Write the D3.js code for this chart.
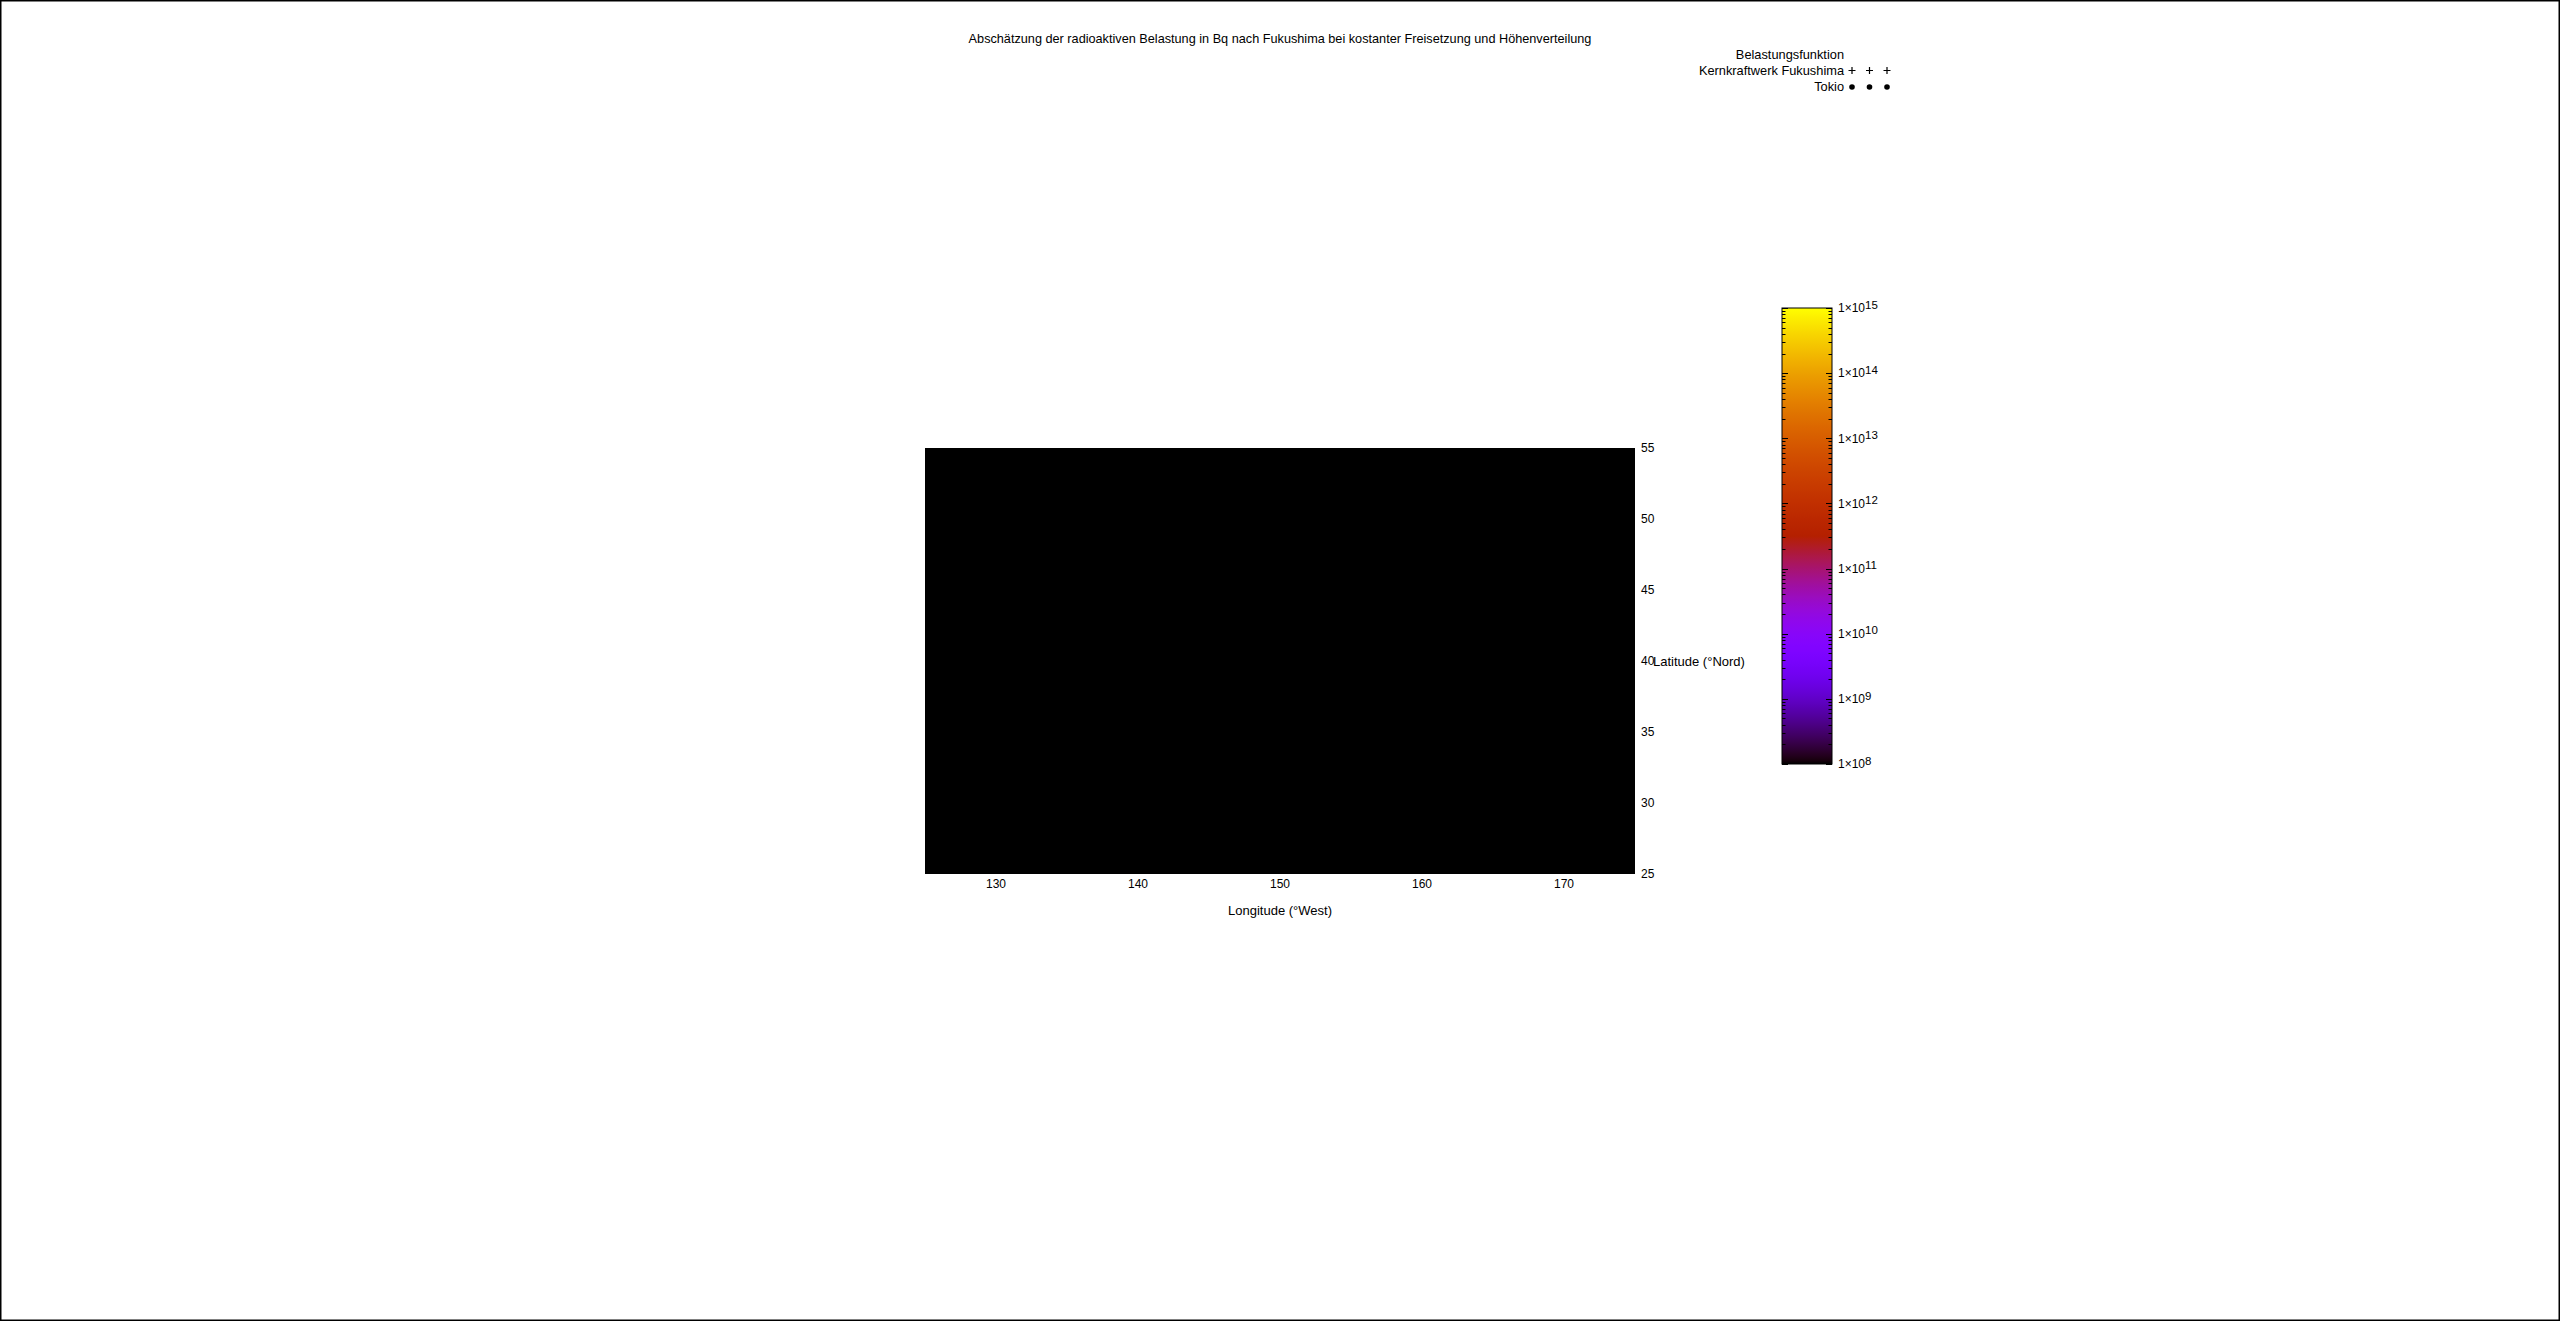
<!DOCTYPE html>
<html><head><meta charset="utf-8">
<script src="https://cdn.jsdelivr.net/npm/d3@7"></script>
<style>html,body{margin:0;padding:0;background:#fff;overflow:hidden}</style>
</head><body>
<script>
// ---------- data ----------
const titleText = "Abschätzung der radioaktiven Belastung in Bq nach Fukushima bei kostanter Freisetzung und Höhenverteilung";
const xLabelText = "Longitude (°West)";
const yLabelText = "Latitude (°Nord)";
const lonDomain = [125, 175];
const latDomain = [25, 55];
const lonTicks = [130, 140, 150, 160, 170];
const latTicks = [25, 30, 35, 40, 45, 50, 55];
const cbDomain = [1e8, 1e15];
const cbExponents = [8, 9, 10, 11, 12, 13, 14, 15];
const legendTitle = "Belastungsfunktion";
const legendNames = ["Kernkraftwerk Fukushima", "Tokio"];
const legendSymbols = ["plus", "circle"];
// field cells (edges and values in Bq) — whole map at palette minimum
const cellLonEdges = [125, 175];
const cellLatEdges = [25, 55];
const cellValues = [[1e8]];
// sites
const siteLon = [141.03, 139.69];
const siteLat = [37.42, 35.69];

// ---------- drawing ----------
const W = 2560, H = 1321;
const FONT = "'Liberation Sans', Arial, sans-serif";
const svg = d3.select("body").append("svg").attr("width", W).attr("height", H)
  .style("font-family", FONT).style("font-size", "12px");

svg.append("rect").attr("x", 0).attr("y", 0).attr("width", W).attr("height", H).attr("fill", "#fff");
svg.append("rect").attr("x", 0.75).attr("y", 0.75).attr("width", W - 1.5).attr("height", H - 1.5)
  .attr("fill", "none").attr("stroke", "#000").attr("stroke-width", 1.5);

const palette = t => {
  t = Math.max(0, Math.min(1, t));
  const r = Math.sqrt(t), g = t * t * t, b = Math.max(0, Math.sin(2 * Math.PI * t));
  return d3.rgb(r * 255, g * 255, b * 255).toString();
};
const tScale = d3.scaleLog().domain(cbDomain).range([0, 1]).clamp(true);
const color = v => palette(tScale(v));

const plot = {left: 925, right: 1635, top: 448, bottom: 874};
const x = d3.scaleLinear().domain(lonDomain).range([plot.left, plot.right]);
const y = d3.scaleLinear().domain(latDomain).range([plot.bottom, plot.top]);

// heat map cells
cellValues.forEach((row, j) => row.forEach((v, i) => {
  svg.append("rect")
    .attr("x", x(cellLonEdges[i])).attr("y", y(cellLatEdges[j + 1]))
    .attr("width", x(cellLonEdges[i + 1]) - x(cellLonEdges[i]))
    .attr("height", y(cellLatEdges[j]) - y(cellLatEdges[j + 1]))
    .attr("fill", color(v));
}));

// sites (black, as in reference)
svg.append("g").selectAll("path").data(siteLon.map((d, i) => [d, siteLat[i], legendSymbols[i]]))
  .join("path")
  .attr("transform", d => `translate(${x(d[0])},${y(d[1])})`)
  .attr("d", d => d[2] === "plus" ? "M-3.5,0H3.5M0,-3.5V3.5" : d3.symbol().type(d3.symbolCircle).size(25)())
  .attr("stroke", "#000").attr("fill", d => d[2] === "plus" ? "none" : "#000");

// x axis labels
svg.append("g").selectAll("text").data(lonTicks).join("text")
  .attr("x", d => x(d)).attr("y", 888).attr("text-anchor", "middle").text(d => d);
// y axis labels (right side)
svg.append("g").selectAll("text").data(latTicks).join("text")
  .attr("x", plot.right + 6).attr("y", d => y(d)).attr("dy", "0.35em").text(d => d);

svg.append("text").attr("x", (plot.left + plot.right) / 2).attr("y", 915)
  .attr("text-anchor", "middle").style("font-size", "13px").text(xLabelText);
svg.append("text").attr("x", 1653).attr("y", (plot.top + plot.bottom) / 2).attr("dy", "0.35em")
  .style("font-size", "13px").text(yLabelText);

svg.append("text").attr("x", (plot.left + plot.right) / 2).attr("y", 42.5)
  .attr("text-anchor", "middle").style("font-size", "12.7px").text(titleText);

// legend
const legX = 1844, legSymX = [1852, 1869.5, 1887], legRows = [55, 70.5, 87];
const legFont = "12.8px";
svg.append("text").attr("x", legX).attr("y", legRows[0] + 4.3).attr("text-anchor", "end")
  .style("font-size", legFont).text(legendTitle);
legendNames.forEach((name, i) => {
  const cy = legRows[i + 1];
  svg.append("text").attr("x", legX).attr("y", cy + 4.3).attr("text-anchor", "end")
    .style("font-size", legFont).text(name);
  legSymX.forEach(sx => {
    if (legendSymbols[i] === "plus") {
      svg.append("path").attr("d", `M${sx - 3.5},${cy}H${sx + 3.5}M${sx},${cy - 3.5}V${cy + 3.5}`)
        .attr("stroke", "#000").attr("stroke-width", 1.2);
    } else {
      svg.append("circle").attr("cx", sx).attr("cy", cy).attr("r", 2.8).attr("fill", "#000");
    }
  });
});

// colour box
const cb = {left: 1782, right: 1832, top: 308, bottom: 764};
const cbY = d3.scaleLog().domain(cbDomain).range([cb.bottom, cb.top]);
const defs = svg.append("defs");
const grad = defs.append("linearGradient").attr("id", "cbgrad")
  .attr("x1", 0).attr("y1", 1).attr("x2", 0).attr("y2", 0);
d3.range(0, 129).forEach(k => {
  const t = k / 128;
  grad.append("stop").attr("offset", t).attr("stop-color", palette(t));
});
svg.append("rect").attr("x", cb.left).attr("y", cb.top)
  .attr("width", cb.right - cb.left).attr("height", cb.bottom - cb.top)
  .attr("fill", "url(#cbgrad)");

const tickG = svg.append("g").attr("stroke", "#000").attr("stroke-width", 1);
cbExponents.forEach(e => {
  const v = Math.pow(10, e);
  const yy = Math.round(cbY(v)) + 0.5;
  tickG.append("line").attr("x1", cb.left).attr("x2", cb.left + 6).attr("y1", yy).attr("y2", yy);
  tickG.append("line").attr("x1", cb.right).attr("x2", cb.right - 6).attr("y1", yy).attr("y2", yy);
  if (e < cbExponents[cbExponents.length - 1]) {
    for (let k = 2; k <= 9; k++) {
      const ym = Math.round(cbY(k * v)) + 0.5;
      tickG.append("line").attr("x1", cb.left).attr("x2", cb.left + 3.5).attr("y1", ym).attr("y2", ym);
      tickG.append("line").attr("x1", cb.right).attr("x2", cb.right - 3.5).attr("y1", ym).attr("y2", ym);
    }
  }
  const t = svg.append("text").attr("x", 1838).attr("y", cbY(v) + 4.3);
  t.append("tspan").text("1×10");
  t.append("tspan").attr("dy", -3.6).style("font-size", "11.5px").text(e);
});
svg.append("rect").attr("x", cb.left).attr("y", cb.top)
  .attr("width", cb.right - cb.left).attr("height", cb.bottom - cb.top)
  .attr("fill", "none").attr("stroke", "#000").attr("stroke-width", 1);
</script>
</body></html>
